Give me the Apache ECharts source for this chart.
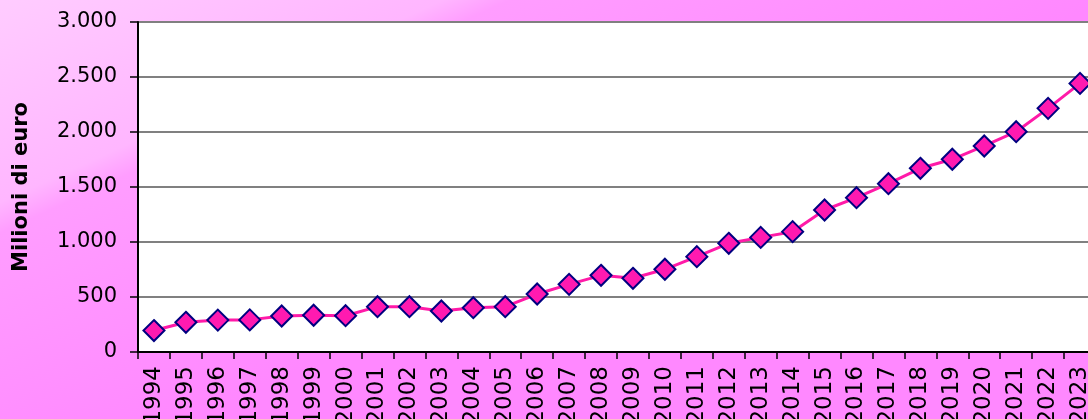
<!DOCTYPE html>
<html>
<head>
<meta charset="utf-8">
<script src="https://cdn.jsdelivr.net/npm/echarts@6/dist/echarts.min.js"></script>
<style>
html,body{margin:0;padding:0;}
#chart{width:1088px;height:419px;}
</style>
</head>
<body>
<div id="chart"></div>
<script>
const years = ['1994','1995','1996','1997','1998','1999','2000','2001','2002','2003','2004','2005','2006','2007','2008','2009','2010','2011','2012','2013','2014','2015','2016','2017','2018','2019','2020','2021','2022','2023'];
const values = [195, 270, 290, 292, 327, 334, 330, 412, 412, 373, 403, 412, 527, 615, 697, 670, 752, 867, 988, 1042, 1094, 1291, 1403, 1530, 1670, 1752, 1873, 2003, 2215, 2442];
const yAxisName = 'Milioni di euro';
const yMin = 0, yMax = 3000, yStep = 500;

function fmtIt(v){
  return String(v).replace(/\B(?=(\d{3})+(?!\d))/g, '.');
}

const chart = echarts.init(document.getElementById('chart'), null, {renderer:'canvas'});
const font = 'DejaVu Sans';
chart.setOption({
  animation: false,
  backgroundColor: {
    type: 'linear', x: 0, y: 0, x2: 0.176, y2: 1,
    colorStops: [
      {offset: 0, color: '#ffccff'},
      {offset: 0.40, color: '#ffb6ff'},
      {offset: 0.46, color: '#ff9dff'},
      {offset: 1, color: '#ff88ff'}
    ]
  },
  grid: {
    left: 138, top: 22, bottom: 67, right: -8,
    containLabel: false,
    outerBoundsMode: 'none',
    show: true, backgroundColor: '#ffffff', borderWidth: 0
  },
  xAxis: {
    type: 'category',
    data: years,
    boundaryGap: true,
    axisLine: {show: true, lineStyle: {color: '#000', width: 2}},
    axisTick: {show: true, length: 7, alignWithLabel: false, lineStyle: {color: '#000', width: 1.5}},
    axisLabel: {
      rotate: 90, interval: 0, margin: 14,
      fontFamily: font, fontSize: 23, color: '#000'
    },
    splitLine: {show: false}
  },
  yAxis: {
    type: 'value',
    min: yMin, max: yMax, interval: yStep,
    name: yAxisName,
    nameLocation: 'middle',
    nameRotate: 90,
    nameGap: 106,
    nameTextStyle: {fontFamily: font, fontSize: 21, fontWeight: 'bold', color: '#000'},
    axisLine: {show: true, lineStyle: {color: '#000', width: 2}},
    axisTick: {show: true, length: 8, lineStyle: {color: '#000', width: 1.5}},
    axisLabel: {
      margin: 21, fontFamily: font, fontSize: 21, color: '#000',
      formatter: fmtIt
    },
    splitLine: {show: true, lineStyle: {color: '#808080', width: 2}}
  },
  series: [{
    type: 'line',
    data: values,
    symbol: 'diamond',
    symbolSize: 21,
    lineStyle: {color: '#ff1aa8', width: 3},
    itemStyle: {color: '#ff1ab0', borderColor: '#000080', borderWidth: 2},
    z: 5
  }]
});
</script>
</body>
</html>
